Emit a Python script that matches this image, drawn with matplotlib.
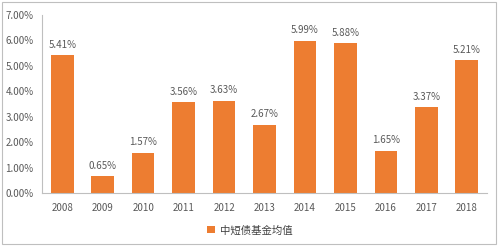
import matplotlib
matplotlib.use('Agg')
import matplotlib.pyplot as plt
from matplotlib.patches import Rectangle
from matplotlib.ticker import FuncFormatter

plt.rcParams['font.family'] = ['Noto Sans CJK SC', 'DejaVu Sans']

years = ['2008', '2009', '2010', '2011', '2012', '2013', '2014', '2015', '2016', '2017', '2018']
values = [5.41, 0.65, 1.57, 3.56, 3.63, 2.67, 5.99, 5.88, 1.65, 3.37, 5.21]
series_name = '中短债基金均值'

orange = '#ED7D31'
gray_text = '#595959'

fig = plt.figure(figsize=(5, 2.49), dpi=100)
ax = fig.add_axes([0.084, 0.225, 0.89, 0.715])

x = range(len(years))
bars = ax.bar(x, values, width=0.56, color=orange, label=series_name)
for xi, v in zip(x, values):
    ax.text(xi, v + 0.22, f'{v:.2f}%', ha='center', va='bottom', fontsize=7, color=gray_text)

ax.set_xlim(-0.5, len(years) - 0.5)
ax.set_ylim(0, 7)
ax.set_yticks(range(0, 8))
ax.yaxis.set_major_formatter(FuncFormatter(lambda v, p: f'{v:.2f}%'))
ax.set_xticks(list(x))
ax.set_xticklabels(years)
ax.tick_params(axis='both', length=0, labelsize=7, colors=gray_text, pad=7)
ax.tick_params(axis='y', pad=6)

for s in ['top', 'right']:
    ax.spines[s].set_visible(False)
ax.spines['left'].set_color('#BFBFBF')
ax.spines['bottom'].set_color('#BFBFBF')
ax.spines['left'].set_linewidth(0.8)
ax.spines['bottom'].set_linewidth(0.8)

fig.legend(handles=[bars], labels=[series_name], loc='center', bbox_to_anchor=(0.5, 0.075),
           frameon=False, fontsize=7.5, handlelength=0.7, handleheight=0.7, handletextpad=0.5,
           labelcolor='#404040')

fig.patches.append(Rectangle((0.004, 0.02), 0.988, 0.972, transform=fig.transFigure,
                             fill=False, edgecolor='#BFBFBF', linewidth=0.8))

fig.savefig('out.png', dpi=100)
